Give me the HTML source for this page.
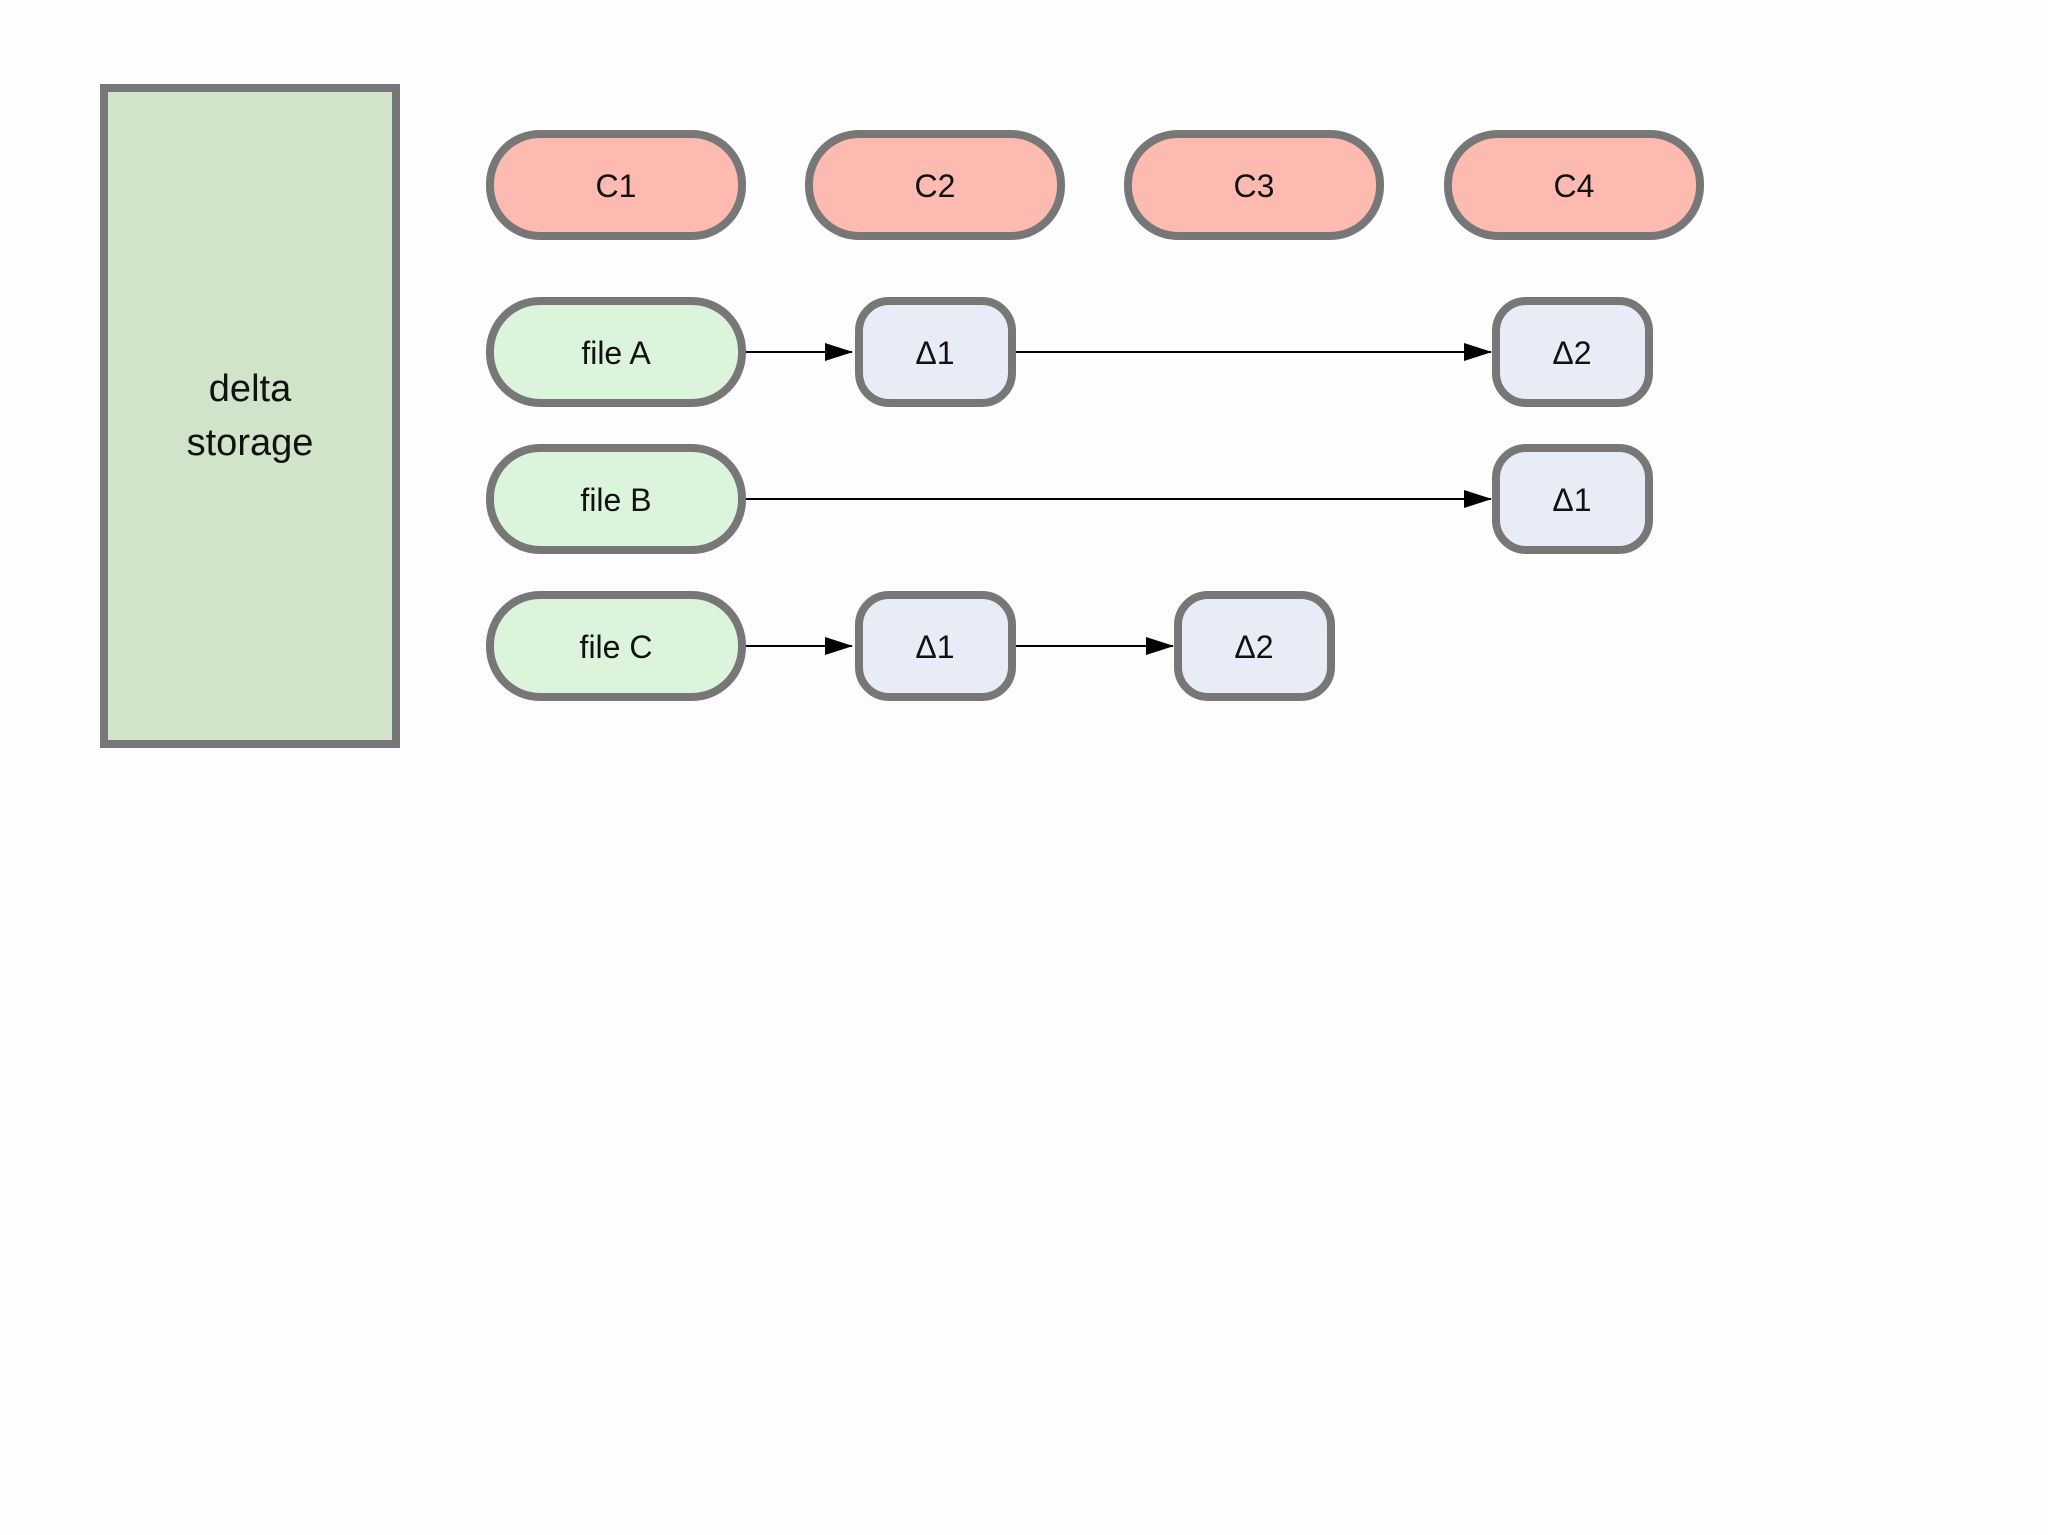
<!DOCTYPE html>
<html><head><meta charset="utf-8"><style>
html,body{margin:0;padding:0;background:#fdfdfd;}
svg{display:block;}
text{font-family:"Liberation Sans",sans-serif;fill:#111;}
</style></head><body>
<svg width="2048" height="1535" viewBox="0 0 2048 1535" xmlns="http://www.w3.org/2000/svg">
<defs>
<marker id="ah" markerWidth="28" markerHeight="20" refX="27" refY="10" orient="auto" markerUnits="userSpaceOnUse">
<path d="M0,1 L28,10 L0,19 Z" fill="#000"/>
</marker>
</defs>
<rect x="0" y="0" width="2048" height="1535" fill="#fdfdfd"/>
<rect x="104" y="88" width="292" height="656" fill="#cfe4c8" stroke="#777" stroke-width="8"/>
<text x="250" y="401" font-size="38" text-anchor="middle">delta</text>
<text x="250" y="455" font-size="38" text-anchor="middle">storage</text>

<g stroke="#777" stroke-width="8">
<rect x="490" y="134" width="252" height="102" rx="50" fill="#fdbab0"/>
<rect x="809" y="134" width="252" height="102" rx="50" fill="#fdbab0"/>
<rect x="1128" y="134" width="252" height="102" rx="50" fill="#fdbab0"/>
<rect x="1448" y="134" width="252" height="102" rx="50" fill="#fdbab0"/>
<rect x="490" y="301" width="252" height="102" rx="50" fill="#dcf3dc"/>
<rect x="490" y="448" width="252" height="102" rx="50" fill="#dcf3dc"/>
<rect x="490" y="595" width="252" height="102" rx="50" fill="#dcf3dc"/>
<rect x="859" y="301" width="153" height="102" rx="30" fill="#e8ecf6"/>
<rect x="1496" y="301" width="153" height="102" rx="30" fill="#e8ecf6"/>
<rect x="1496" y="448" width="153" height="102" rx="30" fill="#e8ecf6"/>
<rect x="859" y="595" width="153" height="102" rx="30" fill="#e8ecf6"/>
<rect x="1178" y="595" width="153" height="102" rx="30" fill="#e8ecf6"/>
</g>

<g stroke="#000" stroke-width="2" fill="none">
<line x1="746" y1="352" x2="852" y2="352" marker-end="url(#ah)"/>
<line x1="1016" y1="352" x2="1491" y2="352" marker-end="url(#ah)"/>
<line x1="746" y1="499" x2="1491" y2="499" marker-end="url(#ah)"/>
<line x1="746" y1="646" x2="852" y2="646" marker-end="url(#ah)"/>
<line x1="1016" y1="646" x2="1173" y2="646" marker-end="url(#ah)"/>
</g>

<g font-size="32" text-anchor="middle">
<text x="616" y="197">C1</text>
<text x="935" y="197">C2</text>
<text x="1254" y="197">C3</text>
<text x="1574" y="197">C4</text>
<text x="616" y="364">file A</text>
<text x="616" y="511">file B</text>
<text x="616" y="658">file C</text>
<text x="935" y="364">Δ1</text>
<text x="1572" y="364">Δ2</text>
<text x="1572" y="511">Δ1</text>
<text x="935" y="658">Δ1</text>
<text x="1254" y="658">Δ2</text>
</g>
</svg>
</body></html>
